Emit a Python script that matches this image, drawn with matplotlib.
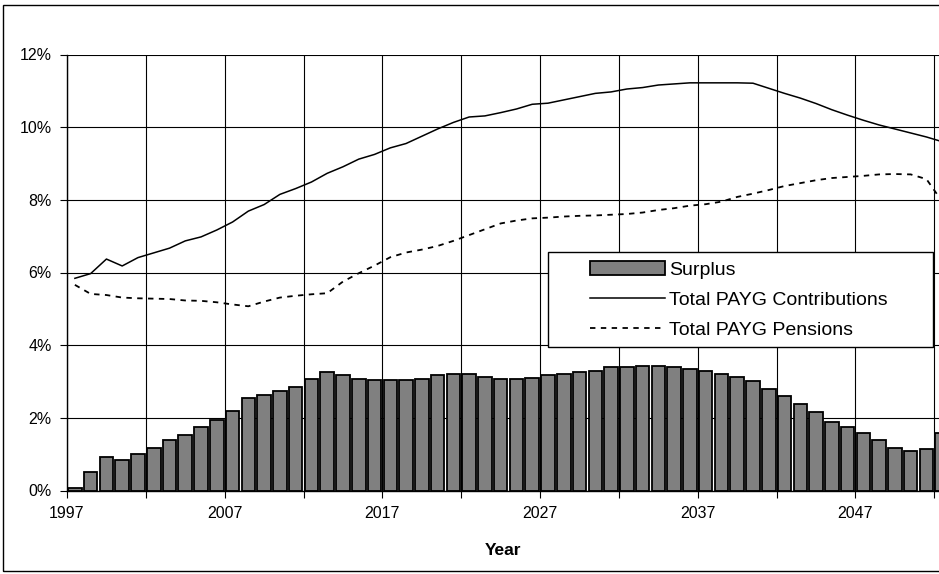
import matplotlib
matplotlib.use("Agg")
import matplotlib.pyplot as plt
from matplotlib.patches import Rectangle
from matplotlib.ticker import FixedLocator, FuncFormatter

plt.rcParams['font.family'] = ['Liberation Sans', 'DejaVu Sans']

years = list(range(1997, 2053))

surplus = [0.07, 0.52, 0.92, 0.83, 1.00, 1.18, 1.40, 1.53, 1.75, 1.93,
           2.20, 2.55, 2.64, 2.73, 2.86, 3.08, 3.26, 3.17, 3.08, 3.04,
           3.04, 3.04, 3.08, 3.17, 3.21, 3.21, 3.12, 3.08, 3.08, 3.11,
           3.17, 3.21, 3.26, 3.30, 3.39, 3.39, 3.43, 3.43, 3.39, 3.34,
           3.30, 3.21, 3.12, 3.02, 2.80, 2.60, 2.37, 2.15, 1.88, 1.74,
           1.58, 1.40, 1.18, 1.09, 1.13, 1.58]

contributions = [5.84, 5.97, 6.37, 6.18, 6.41, 6.54, 6.67, 6.87, 6.98, 7.17,
                 7.39, 7.69, 7.87, 8.15, 8.31, 8.49, 8.73, 8.91, 9.12, 9.25,
                 9.43, 9.55, 9.75, 9.95, 10.13, 10.28, 10.31, 10.40, 10.50, 10.63,
                 10.66, 10.75, 10.84, 10.93, 10.97, 11.05, 11.09, 11.16, 11.19, 11.22,
                 11.22, 11.22, 11.22, 11.21, 11.07, 10.93, 10.80, 10.65, 10.48, 10.33,
                 10.19, 10.06, 9.95, 9.84, 9.73, 9.60]

pensions = [5.66, 5.41, 5.38, 5.31, 5.29, 5.28, 5.27, 5.23, 5.22, 5.18,
            5.12, 5.07, 5.20, 5.31, 5.36, 5.40, 5.43, 5.75, 5.98, 6.19,
            6.42, 6.55, 6.63, 6.73, 6.87, 7.03, 7.19, 7.35, 7.43, 7.49,
            7.51, 7.54, 7.56, 7.57, 7.59, 7.61, 7.65, 7.72, 7.77, 7.84,
            7.88, 7.95, 8.08, 8.17, 8.27, 8.38, 8.46, 8.54, 8.60, 8.63,
            8.66, 8.70, 8.71, 8.70, 8.57, 7.95]

y_ticks = [0, 2, 4, 6, 8, 10, 12]
x_label_years = [1997, 2007, 2017, 2027, 2037, 2047]

W, H = 939, 574
fig = plt.figure(figsize=(W / 100, H / 100), dpi=100)
fig.patch.set_facecolor('white')

# outer chart border
fig.add_artist(Rectangle((3 / W, 3 / H), 2.0, (H - 8) / H,
                         transform=fig.transFigure, fill=False,
                         edgecolor='black', linewidth=1.0, clip_on=False))

ax_left, ax_right = 67, 939
ax_top, ax_bottom = 54.5, 490.5
ax = fig.add_axes([ax_left / W, (H - ax_bottom) / H,
                   (ax_right - ax_left) / W, (ax_bottom - ax_top) / H])

px_per_year = 15.77
x0 = 1997
x1 = x0 + (ax_right - ax_left) / px_per_year
ax.set_xlim(x0, x1)
ax.set_ylim(0, 12)

centers = [y + 0.5 for y in years]
bars = ax.bar(centers, surplus, width=0.86, color='#808080', edgecolor='black',
              linewidth=1.3, zorder=2)
contrib_line, = ax.plot(centers, contributions, color='black', linewidth=1.1,
                        zorder=3)
pension_line, = ax.plot(centers, pensions, color='black', linewidth=1.3,
                        linestyle=(0, (3, 3)), zorder=3)

# grid
ax.yaxis.set_major_locator(FixedLocator(y_ticks))
ax.yaxis.set_major_formatter(FuncFormatter(lambda v, p: f"{int(v)}%"))
grid_years = list(range(1997, 2053, 5))
ax.xaxis.set_major_locator(FixedLocator(grid_years))
ax.xaxis.set_major_formatter(FuncFormatter(
    lambda v, p: str(int(round(v))) if int(round(v)) in x_label_years else ""))
ax.grid(True, color='black', linewidth=0.8, zorder=1)
ax.set_axisbelow(True)

for s in ['top', 'right']:
    ax.spines[s].set_visible(False)
ax.spines['left'].set_linewidth(1.0)
ax.spines['bottom'].set_linewidth(1.0)
ax.tick_params(axis='both', direction='out', length=5, width=0.8,
               labelsize=11.5, colors='black')
ax.tick_params(axis='y', pad=6)
ax.tick_params(axis='x', pad=6)

ax.set_xlabel('Year', fontsize=12.5, fontweight='bold', labelpad=16)

# legend box
ax_h = ax_bottom - ax_top
lx0, lx1 = (548 - ax_left) / (ax_right - ax_left), (933 - ax_left) / (ax_right - ax_left)
ly0, ly1 = (ax_bottom - 347) / ax_h, (ax_bottom - 252) / ax_h
ax.add_patch(Rectangle((lx0, ly0), lx1 - lx0, ly1 - ly0, transform=ax.transAxes,
                       facecolor='white', edgecolor='black', linewidth=1.0,
                       zorder=5, clip_on=False))
leg = ax.legend([bars, contrib_line, pension_line],
                ['Surplus', 'Total PAYG Contributions', 'Total PAYG Pensions'],
                loc='upper left',
                bbox_to_anchor=((591 - ax_left) / (ax_right - ax_left) - 0.004,
                                ly1 - 6 / ax_h),
                frameon=False, fontsize=14, handlelength=3.85, handletextpad=0.2,
                labelspacing=0.64, borderpad=0.15, borderaxespad=0)
leg.set_zorder(6)

fig.savefig('out.png', dpi=100)
